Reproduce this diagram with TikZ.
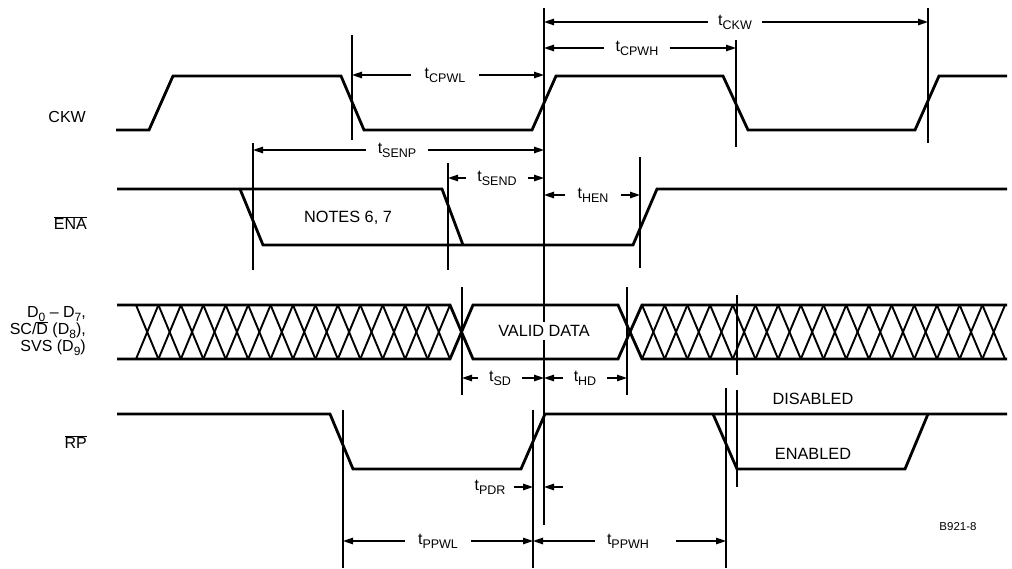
\documentclass[tikz,border=0pt]{standalone}
\usepackage{fontspec}
\setmainfont{Liberation Sans}
\usetikzlibrary{arrows.meta}
\newcommand\tsb[1]{{\fontsize{16}{18}\selectfont t}\raisebox{-0.45ex}{\fontsize{12.5}{13}\selectfont #1}}
\newcommand\dsb[1]{\raisebox{-0.45ex}{\fontsize{12}{12}\selectfont #1}}
\newcommand\ovl[1]{$\overline{\mbox{#1}}$}
\begin{document}
\begin{tikzpicture}[x=1pt,y=-1pt,
  sig/.style={line width=2.8pt,line join=miter},
  vline/.style={line width=1.8pt},
  dim/.style={line width=1.3pt,-{Triangle[length=10pt,width=6.5pt]}},
  hatch/.style={line width=1.9pt},
  lbl/.style={font=\fontsize{16.3}{19}\selectfont,inner sep=1pt},
  dlab/.style={font=\fontsize{16}{18}\selectfont,inner ysep=1pt,inner xsep=12pt},
  sidelab/.style={font=\fontsize{16}{18.5}\selectfont,anchor=east,inner sep=0pt,align=right}]
\useasboundingbox (0,0) rectangle (1012,568);

% ---------- vertical reference lines ----------
\coordinate (vA) at (544,8);
\coordinate (vB) at (352,35);
\coordinate (vC) at (736,40);
\coordinate (vD) at (928,8);
\coordinate (vE) at (253,143);
\coordinate (vF) at (448,163);
\coordinate (vG) at (640,157);
\coordinate (vH) at (462,287);
\coordinate (vI) at (627,287);
\coordinate (vJ) at (737,295);
\coordinate (vK) at (343,410);
\coordinate (vL) at (533,410);
\coordinate (vM) at (726,388);
\coordinate (vN) at (737,390);
\draw[vline] (vA) -- ++(0,517);
\draw[vline] (vB) -- ++(0,105);
\draw[vline] (vC) -- ++(0,107);
\draw[vline] (vD) -- ++(0,135);
\draw[vline] (vE) -- ++(0,127);
\draw[vline] (vF) -- ++(0,107);
\draw[vline] (vG) -- ++(0,111);
\draw[vline] (vH) -- ++(0,108);
\draw[vline] (vI) -- ++(0,108);
\draw[vline] (vJ) -- ++(0,80);
\draw[vline] (vK) -- ++(0,158);
\draw[vline] (vL) -- ++(0,158);
\draw[vline] (vM) -- ++(0,180);
\draw[vline] (vN) -- ++(0,97);

% ---------- signal names ----------
\node[sidelab] (nCKW) at (86,117) {CKW};
\node[sidelab] (nENA) at (87,223) {\ovl{ENA}};
\node[sidelab] (nD) at (86,331) {D\dsb{0} -- D\dsb{7},\\[-1.5pt]SC/\ovl{D} (D\dsb{8}),\\[-1.5pt]SVS (D\dsb{9})};
\node[sidelab] (nRP) at (87,442) {\ovl{RP}};

% ---------- CKW ----------
\draw[sig] (116,130) -- (149,130) -- (173,76) -- (341,76) -- (364,130) -- (532,130)
  -- (556,76) -- (723,76) -- (748,130) -- (915,130) -- (939,76) -- (1007,76);

% ---------- ENA ----------
\draw[sig] (117,189) -- (442,189) -- (463,245);
\draw[sig] (240,189) -- (263,245) -- (633,245) -- (657,189) -- (1007,189);
\node[lbl] (notes) at (348,218) {NOTES 6, 7};

% ---------- data bus ----------
\draw[sig] (117,305) -- (450,305) -- (473,359) -- (618,359) -- (642,305) -- (1007,305);
\draw[sig] (117,359) -- (450,359) -- (473,305) -- (618,305) -- (642,359) -- (1007,359);
\foreach \i in {0,...,13}{
  \draw[hatch] ({136+\i*22.43},305) -- ({136+(\i+1)*22.43},359);
  \draw[hatch] ({136+\i*22.43},359) -- ({136+(\i+1)*22.43},305);
}
\foreach \i in {0,...,15}{
  \draw[hatch] ({642+\i*22.69},305) -- ({642+(\i+1)*22.69},359);
  \draw[hatch] ({642+\i*22.69},359) -- ({642+(\i+1)*22.69},305);
}
\node[lbl,fill=white,inner sep=3pt] (valid) at (544,331) {VALID DATA};

% ---------- RP ----------
\draw[sig] (117,414) -- (330,414) -- (353,469) -- (521,469) -- (545,414) -- (1007,414);
\draw[sig] (713,414) -- (737,469) -- (905,469) -- (928,414);
\node[lbl] (dis) at (813,399) {DISABLED};
\node[lbl] (ena) at (813,454) {ENABLED};
\node[font=\fontsize{11.5}{13}\selectfont,inner sep=1pt] (fig) at (958,527) {B921-8};

% ---------- timing dimensions ----------
\node[dlab,inner xsep=10pt] (lCKW) at (735,22) {\tsb{CKW}};
\draw[dim] (lCKW.west) -- (lCKW.west -| vA);
\draw[dim] (lCKW.east) -- (lCKW.east -| vD);

\node[dlab,inner xsep=11pt] (lCPWH) at (637,48) {\tsb{CPWH}};
\draw[dim] (lCPWH.west) -- (lCPWH.west -| vA);
\draw[dim] (lCPWH.east) -- (lCPWH.east -| vC);

\node[dlab,inner xsep=14pt] (lCPWL) at (445,75) {\tsb{CPWL}};
\draw[dim] (lCPWL.west) -- (lCPWL.west -| vB);
\draw[dim] (lCPWL.east) -- (lCPWL.east -| vA);

\node[dlab] (lSENP) at (397,150) {\tsb{SENP}};
\draw[dim] (lSENP.west) -- (lSENP.west -| vE);
\draw[dim] (lSENP.east) -- (lSENP.east -| vA);

\node[dlab,inner xsep=11pt] (lSEND) at (497,178) {\tsb{SEND}};
\draw[dim] (lSEND.west) -- (lSEND.west -| vF);
\draw[dim] (lSEND.east) -- (lSEND.east -| vA);

\node[dlab,inner xsep=12pt] (lHEN) at (593,195) {\tsb{HEN}};
\draw[dim] (lHEN.west) -- (lHEN.west -| vA);
\draw[dim] (lHEN.east) -- (lHEN.east -| vG);

\node[dlab,inner xsep=11pt] (lSD) at (500,378) {\tsb{SD}};
\draw[dim] (lSD.west) -- (lSD.west -| vH);
\draw[dim] (lSD.east) -- (lSD.east -| vA);

\node[dlab,inner xsep=11pt] (lHD) at (585,378) {\tsb{HD}};
\draw[dim] (lHD.west) -- (lHD.west -| vA);
\draw[dim] (lHD.east) -- (lHD.east -| vI);

\node[dlab,inner xsep=1pt] (lPDR) at (490,487) {\tsb{PDR}};
\coordinate (pdrA) at (514,487);
\coordinate (pdrB) at (563,487);
\draw[dim] (pdrA) -- (pdrA -| vL);
\draw[dim] (pdrB) -- (pdrB -| vA);

\node[dlab,inner xsep=13pt] (lPPWL) at (438,541) {\tsb{PPWL}};
\draw[dim] (lPPWL.west) -- (lPPWL.west -| vK);
\draw[dim] (lPPWL.east) -- (lPPWL.east -| vL);

\node[dlab,inner xsep=12pt] (lPPWH) at (628,541) {\tsb{PPWH}};
\coordinate (ppwhR) at (676,541);
\draw[dim] (lPPWH.west) -- (lPPWH.west -| vL);
\draw[dim] (ppwhR) -- (ppwhR -| vM);
\end{tikzpicture}
\end{document}
